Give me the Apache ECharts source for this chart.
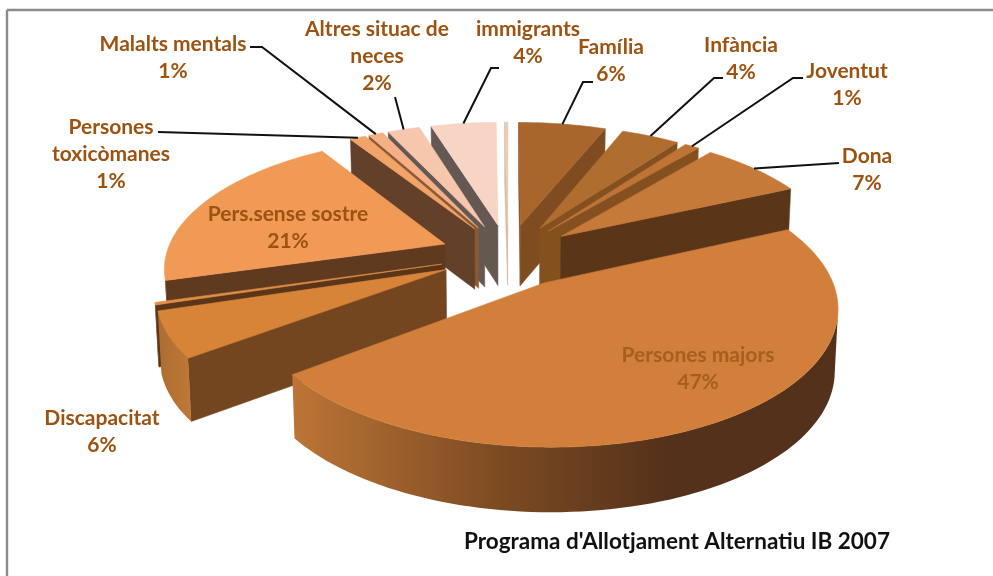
<!DOCTYPE html>
<html><head><meta charset="utf-8">
<style>html,body{margin:0;padding:0;background:#fff}#c{width:993px;height:576px}</style>
<script src="https://cdn.jsdelivr.net/npm/echarts@6/dist/echarts.min.js"></script>
</head><body><div id="c"></div>
<script>
// ---- data (percent of the total), clockwise from the top
const categories = ['Família','Infància','Joventut','Dona','Persones majors','Discapacitat','(sense etiqueta A)','Pers.sense sostre','Persones toxicòmanes','Malalts mentals','Altres situac de neces','immigrants','(sense etiqueta B)'];
const values = [6.0,4.0,1.0,7.2,46.5,5.5,0.3,20.5,1.1,1.0,2.2,4.49,0.21];
const percentLabels = ['6%','4%','1%','7%','47%','6%','','21%','1%','1%','2%','4%',''];
const title = "Programa d'Allotjament Alternatiu IB 2007";

// ---- styles
const topColors  = ['#A8652C','#B06D30','#BD7434','#C67A39','#D17F3A','#D78439','#E08F45','#F19A55','#F2A368','#F5B088','#F6C6AD','#F7D4C3','#E9CDB6'];
const wallColors = ['#7F4C21','#85501F','#85501F','#5A3518','#5A3518','#744620','#5A3518','#603A1F','#62402A','#8A5A35','#635852','#635852','#D9B89C'];
const labelLines = [
  ['Família'],['Infància'],['Joventut'],['Dona'],['Persones majors'],['Discapacitat'],[],['Pers.sense sostre'],
  ['Persones','toxicòmanes'],['Malalts mentals'],['Altres situac de','neces'],['immigrants'],[]];
// label centre of the first line, and leader elbow points (from rim outwards)
const labelPos = [[611,47],[741,45],[847,71],[867,156],[698,355],[102,418],null,[288,214],[111,127],[173,44],[377,29],[528,29],null];
const leaders = [[[583,82],[593,82]],[[714,78],[723,78]],[[793,78],[803,78]],[[839,163]],null,null,null,null,[[158,132]],[[262,47],[250,47]],[[395,97]],[[491,68],[499,68]],null];

// ---- 3-D view
const cx=508, cy=255, A=279, B=128, P=0.16, EXPL=0.245, H=61, LINE=27;
function proj(u,v){const s=1/(1+P*v);return {x:cx+A*u*s,y:cy-B*v*s,s};}
function down(p){return [cx+(p.x-cx)*0.99,p.y+H*Math.pow(p.s,0.3)];}
const total=100;
let acc=0;
const slices=values.map((val,i)=>{
  const a0=acc/total*2*Math.PI; acc+=val; const a1=acc/total*2*Math.PI;
  const m=(a0+a1)/2, ou=EXPL*Math.sin(m), ov=EXPL*Math.cos(m);
  const pts=[]; const n=Math.max(2,Math.ceil((a1-a0)/0.03));
  for(let k=0;k<=n;k++){const t=a0+(a1-a0)*k/n;pts.push(proj(ou+Math.sin(t),ov+Math.cos(t)));}
  return {i,a0,a1,m,ou,ov,apex:proj(ou,ov),pts,rim:proj(ou+Math.sin(m),ov+Math.cos(m))};
});
const order=slices.slice().sort((a,b)=>b.ov-a.ov).map(s=>s.i);
function xy(p){return [p.x,p.y];}
function quad(p,q,fill){
  return {type:'polygon',shape:{points:[xy(p),xy(q),down(q),down(p)]},style:{fill,stroke:fill,lineWidth:0.5},silent:true};
}
function sliceEls(s){
  const els=[], c=wallColors[s.i], pts=s.pts, apex=s.apex;
  const first=pts[0], last=pts[pts.length-1];
  if(first.x<apex.x) els.push(quad(apex,first,c));
  if(apex.x<last.x) els.push(quad(last,apex,c));
  // outer curved wall, shaded across the screen
  const grad=new echarts.graphic.LinearGradient(293,0,670,0,[
    {offset:0,color:'#BC7535'},{offset:0.55,color:'#7C4A22'},{offset:1,color:'#54311A'}],true);
  const vis=[];
  for(let k=1;k<pts.length;k++){ if(pts[k].x<pts[k-1].x){ if(!vis.length)vis.push(pts[k-1]); vis.push(pts[k]); } }
  if(vis.length>1){
    const ring=vis.map(xy).concat(vis.slice().reverse().map(down));
    const useGrad=s.i===4||s.i===5;
    const fill=useGrad?(s.i===5?new echarts.graphic.LinearGradient(150,0,195,0,[{offset:0,color:'#A96A30'},{offset:1,color:'#C07A38'}],true):grad):c;
    els.push({type:'polygon',shape:{points:ring},style:{fill,stroke:null},silent:true});
  }
  const poly=[xy(apex)].concat(pts.map(xy));
  els.push({type:'polygon',shape:{points:poly},style:{fill:topColors[s.i],stroke:topColors[s.i],lineWidth:0.6,lineJoin:'round'},silent:true});
  return els;
}
function renderSlice(params,api){
  const s=slices[api.value(0)];
  return {type:'group',children:sliceEls(s)};
}
function renderLabel(params,api){
  const s=slices[api.value(0)], kids=[], i=s.i;
  if(leaders[i]){
    const points=[xy(s.rim)].concat(leaders[i]);
    kids.push({type:'polyline',shape:{points},style:{stroke:'#111',lineWidth:2,fill:null},silent:true});
  }
  if(labelPos[i]){
    const lines=labelLines[i].concat([percentLabels[i]]);
    const inside=i===4;
    lines.forEach((t,k)=>kids.push({type:'text',silent:true,style:{
      x:labelPos[i][0],y:labelPos[i][1]+k*LINE,text:t,align:'center',verticalAlign:'middle',
      font:'bold 21px Lato, "Open Sans", sans-serif',fill:inside?'#A5601F':'#9C5210'}}));
  }
  return {type:'group',children:kids};
}
const chart=echarts.init(document.getElementById('c'),null,{renderer:'canvas'});
chart.setOption({
  animation:false,
  backgroundColor:'#fff',
  graphic:[
    {type:'line',shape:{x1:7,y1:10,x2:993,y2:10},style:{stroke:'#8C8C8C',lineWidth:2.4},silent:true},
    {type:'line',shape:{x1:7,y1:10,x2:7,y2:576},style:{stroke:'#8C8C8C',lineWidth:2.4},silent:true},
    {type:'text',left:464,top:530,style:{text:title,font:'bold 22.5px Lato, "Open Sans", sans-serif',fill:'#111'},silent:true}
  ],
  series:[
    {type:'custom',coordinateSystem:'none',silent:true,z:2,renderItem:renderSlice,
     data:order.map(i=>({value:[i,values[i]],name:categories[i]}))},
    {type:'custom',coordinateSystem:'none',silent:true,z:3,renderItem:renderLabel,
     data:categories.map((c,i)=>({value:[i,values[i]],name:c}))}
  ]
});
</script></body></html>
